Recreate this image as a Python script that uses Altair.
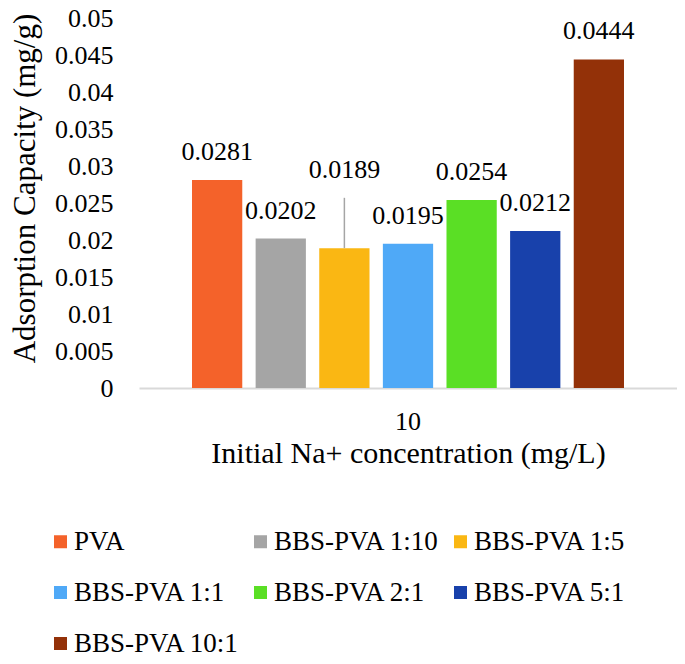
import altair as alt
import pandas as pd

series = ["PVA", "BBS-PVA 1:10", "BBS-PVA 1:5", "BBS-PVA 1:1",
          "BBS-PVA 2:1", "BBS-PVA 5:1", "BBS-PVA 10:1"]
values = [0.0281, 0.0202, 0.0189, 0.0195, 0.0254, 0.0212, 0.0444]
err_up = [0, 0, 0.0068, 0, 0, 0, 0]
concentration = ["10"] * 7
colors = ["#F4622A", "#A5A5A5", "#FAB713", "#4FA9F7", "#5ADF25", "#1841AB", "#933108"]
y_ticks = [0, 0.005, 0.01, 0.015, 0.02, 0.025, 0.03, 0.035, 0.04, 0.045, 0.05]

FONT = "Liberation Serif"
Y_TITLE = "Adsorption Capacity (mg/g)"

df = pd.DataFrame({"series": series, "value": values, "err": err_up, "conc": concentration})

y_axis = alt.Axis(values=y_ticks, format=".3~f", labelFontSize=26, labelPadding=26,
                  labelOverlap=False, labelBound=False, tickCount=11,
                  ticks=False, domain=False, grid=False, labelFont=FONT,
                  labelColor="black", titleFont=FONT, titleFontSize=31,
                  titleFontWeight="normal", titleColor="black",
                  titleX=-114, titleY=170, titleAngle=270,
                  titleBaseline="middle", titleAlign="center")
yscale = alt.Scale(domain=[0, 0.05], nice=False)

base = alt.Chart(df).encode(
    x=alt.X("conc:N", title="Initial Na+ concentration (mg/L)",
            scale=alt.Scale(paddingInner=0, paddingOuter=0.1227),
            axis=alt.Axis(labelAngle=0, labelFontSize=26, labelPadding=20, ticks=False,
                          domainColor="#D9D9D9", domainWidth=2, grid=False,
                          titleFontSize=30, titleFontWeight="normal", titleY=74,
                          titleBaseline="alphabetic", labelColor="black", titleColor="black",
                          labelFont=FONT, titleFont=FONT)),
    xOffset=alt.XOffset("series:N", sort=series,
                        scale=alt.Scale(paddingInner=0.21, paddingOuter=0)),
)

bars = base.mark_bar().encode(
    y=alt.Y("value:Q", title=Y_TITLE, scale=yscale, axis=y_axis),
    color=alt.Color("series:N", sort=series,
                    scale=alt.Scale(domain=series, range=colors),
                    legend=alt.Legend(title=None, orient="none", legendX=-92, legendY=510,
                                      columns=3, direction="horizontal", gridAlign="all",
                                      symbolType="square",
                                      symbolSize=169, symbolStrokeWidth=0,
                                      labelFontSize=27, labelFont=FONT, labelColor="black",
                                      labelOffset=0, columnPadding=7, rowPadding=23,
                                      labelLimit=400, padding=0)),
)

errs = base.transform_filter("datum.err > 0").transform_calculate(
    top="datum.value + datum.err"
).mark_rule(color="#A5A5A5", strokeWidth=1.5).encode(
    y=alt.Y("value:Q", title=Y_TITLE, scale=yscale, axis=y_axis),
    y2="top:Q",
)

labels = base.transform_calculate(
    top="datum.value + datum.err"
).mark_text(dy=-28, fontSize=26, font=FONT, baseline="middle", color="black").encode(
    y=alt.Y("top:Q", title=Y_TITLE, scale=yscale, axis=y_axis),
    text=alt.Text("value:Q", format=".4f"),
)

chart = alt.layer(bars, errs, labels).properties(
    width=538, height=370,
    autosize=alt.AutoSizeParams(type="none"),
    padding={"left": 131, "top": 10, "right": 0, "bottom": 268},
).configure(font=FONT).configure_axis(
    labelFont=FONT, titleFont=FONT, labelOverlap=False
).configure_legend(labelFont=FONT).configure_text(font=FONT).configure_view(stroke=None)

chart.save("out.html", embed_options={"renderer": "svg", "actions": False})
